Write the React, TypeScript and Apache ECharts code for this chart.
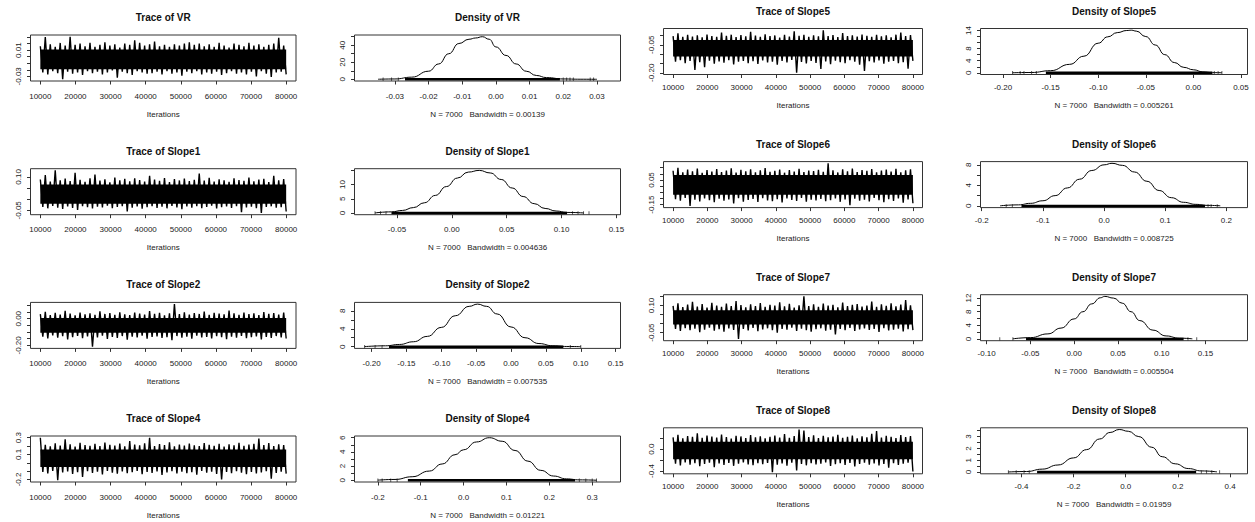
import { useEffect, useRef } from "react";
import * as echarts from "echarts";

// ---------------- shared axis values ----------------
const ITER_FIRST = 10000;
const ITER_LAST = 80000;
const iterTicks = [10000, 20000, 30000, 40000, 50000, 60000, 70000, 80000];
const N_SAMPLES = 7000;

// ---------------- trace envelopes (50 bins: upper and lower excursions) ----------------
const vrHi = [0.016, 0.030, 0.019, 0.015, 0.021, 0.017, 0.0305, 0.018, 0.020, 0.016, 0.021, 0.015, 0.018, 0.022, 0.017, 0.019, 0.014, 0.020, 0.018, 0.025, 0.021, 0.017, 0.019, 0.023, 0.016, 0.018, 0.015, 0.019, 0.017, 0.020, 0.022, 0.018, 0.020, 0.016, 0.019, 0.015, 0.021, 0.017, 0.014, 0.020, 0.018, 0.016, 0.021, 0.017, 0.019, 0.015, 0.018, 0.020, 0.029, 0.017];
const vrLo = [-0.024, -0.027, -0.022, -0.025, -0.0345, -0.023, -0.026, -0.024, -0.028, -0.022, -0.025, -0.023, -0.027, -0.024, -0.021, -0.032, -0.023, -0.025, -0.028, -0.022, -0.024, -0.026, -0.025, -0.023, -0.027, -0.022, -0.026, -0.024, -0.029, -0.023, -0.025, -0.022, -0.027, -0.024, -0.026, -0.023, -0.028, -0.025, -0.022, -0.026, -0.024, -0.027, -0.023, -0.030, -0.022, -0.026, -0.031, -0.024, -0.023, -0.027];
const vrCore = [-0.019, 0.011];

const s1Hi = [0.088, 0.108, 0.079, 0.129, 0.085, 0.092, 0.081, 0.118, 0.087, 0.078, 0.094, 0.110, 0.083, 0.089, 0.076, 0.097, 0.084, 0.091, 0.080, 0.093, 0.086, 0.079, 0.105, 0.088, 0.082, 0.095, 0.077, 0.090, 0.084, 0.092, 0.081, 0.087, 0.115, 0.083, 0.096, 0.079, 0.089, 0.085, 0.078, 0.093, 0.086, 0.082, 0.097, 0.080, 0.088, 0.091, 0.077, 0.105, 0.084, 0.090];
const s1Lo = [-0.035, -0.041, -0.030, -0.038, -0.044, -0.033, -0.039, -0.048, -0.031, -0.036, -0.042, -0.034, -0.037, -0.029, -0.040, -0.035, -0.032, -0.055, -0.038, -0.033, -0.043, -0.036, -0.031, -0.039, -0.034, -0.041, -0.030, -0.037, -0.045, -0.033, -0.038, -0.032, -0.040, -0.035, -0.029, -0.042, -0.036, -0.033, -0.039, -0.031, -0.058, -0.037, -0.034, -0.040, -0.062, -0.035, -0.032, -0.038, -0.036, -0.055];
const s1Core = [-0.020, 0.066];

const s2Hi = [0.035, 0.052, 0.028, 0.044, 0.031, 0.060, 0.038, 0.025, 0.047, 0.033, 0.041, 0.029, 0.055, 0.036, 0.043, 0.030, 0.049, 0.034, 0.027, 0.046, 0.039, 0.032, 0.058, 0.037, 0.045, 0.026, 0.040, 0.110, 0.035, 0.048, 0.031, 0.042, 0.036, 0.053, 0.029, 0.044, 0.038, 0.033, 0.062, 0.040, 0.030, 0.047, 0.035, 0.041, 0.028, 0.050, 0.037, 0.043, 0.032, 0.046];
const s2Lo = [-0.135, -0.148, -0.126, -0.142, -0.131, -0.155, -0.138, -0.129, -0.146, -0.133, -0.210, -0.140, -0.127, -0.151, -0.136, -0.144, -0.130, -0.158, -0.134, -0.141, -0.128, -0.149, -0.137, -0.132, -0.145, -0.139, -0.162, -0.130, -0.143, -0.135, -0.150, -0.128, -0.141, -0.136, -0.147, -0.131, -0.139, -0.153, -0.134, -0.142, -0.129, -0.146, -0.138, -0.133, -0.156, -0.137, -0.144, -0.130, -0.140, -0.148];
const s2Core = [-0.105, 0.006];

const s4Hi = [0.300, 0.215, 0.198, 0.232, 0.207, 0.280, 0.221, 0.194, 0.238, 0.211, 0.203, 0.226, 0.199, 0.241, 0.214, 0.205, 0.229, 0.196, 0.260, 0.218, 0.208, 0.234, 0.300, 0.201, 0.223, 0.212, 0.245, 0.197, 0.219, 0.206, 0.231, 0.210, 0.200, 0.237, 0.215, 0.204, 0.228, 0.195, 0.222, 0.209, 0.240, 0.202, 0.217, 0.226, 0.290, 0.211, 0.235, 0.199, 0.220, 0.213];
const s4Lo = [-0.110, -0.128, -0.098, -0.210, -0.117, -0.104, -0.135, -0.112, -0.170, -0.101, -0.123, -0.108, -0.140, -0.097, -0.119, -0.131, -0.105, -0.126, -0.114, -0.099, -0.137, -0.110, -0.121, -0.103, -0.145, -0.116, -0.100, -0.129, -0.107, -0.124, -0.113, -0.142, -0.098, -0.118, -0.106, -0.133, -0.200, -0.111, -0.125, -0.102, -0.120, -0.138, -0.109, -0.127, -0.115, -0.101, -0.190, -0.122, -0.108, -0.130];
const s4Core = [-0.050, 0.160];

const s5Hi = [-0.004, 0.012, -0.008, 0.003, -0.006, 0.001, -0.010, 0.005, -0.003, -0.007, 0.015, -0.002, 0.004, -0.009, 0.002, -0.005, 0.020, -0.001, -0.008, 0.006, -0.004, 0.000, -0.011, 0.003, -0.006, 0.022, -0.002, 0.004, -0.007, 0.001, -0.005, 0.028, -0.003, 0.002, -0.009, 0.013, -0.004, 0.000, -0.006, 0.005, -0.002, -0.008, 0.003, -0.005, 0.001, -0.010, 0.004, 0.015, -0.003, 0.002];
const s5Lo = [-0.140, -0.132, -0.148, -0.137, -0.185, -0.143, -0.170, -0.135, -0.151, -0.139, -0.146, -0.133, -0.155, -0.141, -0.136, -0.149, -0.138, -0.152, -0.134, -0.145, -0.140, -0.157, -0.137, -0.144, -0.131, -0.200, -0.142, -0.150, -0.136, -0.147, -0.180, -0.139, -0.154, -0.135, -0.143, -0.148, -0.132, -0.141, -0.156, -0.190, -0.138, -0.145, -0.134, -0.151, -0.140, -0.137, -0.149, -0.143, -0.178, -0.136];
const s5Core = [-0.113, -0.024];

const s6Hi = [0.125, 0.148, 0.112, 0.135, 0.120, 0.142, 0.108, 0.130, 0.118, 0.139, 0.115, 0.127, 0.144, 0.110, 0.133, 0.121, 0.137, 0.113, 0.129, 0.146, 0.117, 0.124, 0.135, 0.109, 0.131, 0.119, 0.140, 0.114, 0.126, 0.122, 0.133, 0.116, 0.185, 0.128, 0.111, 0.136, 0.120, 0.143, 0.115, 0.130, 0.124, 0.138, 0.112, 0.127, 0.134, 0.118, 0.141, 0.113, 0.129, 0.137];
const s6Lo = [-0.105, -0.118, -0.096, -0.160, -0.110, -0.123, -0.099, -0.114, -0.130, -0.102, -0.117, -0.108, -0.140, -0.097, -0.125, -0.111, -0.104, -0.128, -0.098, -0.115, -0.121, -0.106, -0.133, -0.100, -0.112, -0.119, -0.095, -0.126, -0.109, -0.116, -0.103, -0.122, -0.113, -0.099, -0.127, -0.107, -0.155, -0.101, -0.118, -0.110, -0.124, -0.096, -0.114, -0.131, -0.105, -0.120, -0.100, -0.135, -0.108, -0.138];
const s6Core = [-0.070, 0.090];

const s7Hi = [0.098, 0.112, 0.091, 0.105, 0.120, 0.094, 0.108, 0.089, 0.115, 0.100, 0.093, 0.110, 0.096, 0.125, 0.102, 0.090, 0.107, 0.097, 0.113, 0.092, 0.104, 0.099, 0.118, 0.095, 0.109, 0.088, 0.101, 0.150, 0.097, 0.106, 0.093, 0.111, 0.099, 0.104, 0.090, 0.116, 0.096, 0.103, 0.108, 0.094, 0.100, 0.122, 0.092, 0.107, 0.098, 0.112, 0.095, 0.105, 0.130, 0.101];
const s7Lo = [-0.030, -0.041, -0.025, -0.036, -0.028, -0.048, -0.033, -0.022, -0.039, -0.031, -0.044, -0.027, -0.035, -0.085, -0.029, -0.038, -0.024, -0.042, -0.032, -0.026, -0.037, -0.050, -0.030, -0.034, -0.023, -0.040, -0.028, -0.036, -0.045, -0.031, -0.026, -0.039, -0.033, -0.060, -0.029, -0.037, -0.024, -0.041, -0.032, -0.027, -0.035, -0.030, -0.046, -0.025, -0.038, -0.033, -0.028, -0.043, -0.031, -0.036];
const s7Core = [-0.005, 0.074];

const s8Hi = [0.215, 0.262, 0.198, 0.240, 0.225, 0.290, 0.207, 0.251, 0.230, 0.212, 0.268, 0.221, 0.195, 0.246, 0.233, 0.204, 0.258, 0.218, 0.237, 0.200, 0.227, 0.249, 0.213, 0.275, 0.206, 0.239, 0.360, 0.340, 0.222, 0.255, 0.201, 0.243, 0.216, 0.231, 0.264, 0.209, 0.226, 0.250, 0.197, 0.235, 0.219, 0.282, 0.330, 0.211, 0.244, 0.228, 0.203, 0.257, 0.223, 0.238];
const s8Lo = [-0.265, -0.298, -0.241, -0.283, -0.256, -0.312, -0.270, -0.247, -0.330, -0.262, -0.289, -0.251, -0.305, -0.268, -0.243, -0.279, -0.292, -0.258, -0.274, -0.250, -0.420, -0.286, -0.263, -0.301, -0.248, -0.390, -0.271, -0.296, -0.255, -0.282, -0.267, -0.244, -0.308, -0.276, -0.259, -0.290, -0.253, -0.315, -0.269, -0.246, -0.284, -0.261, -0.299, -0.272, -0.340, -0.257, -0.287, -0.264, -0.249, -0.410];
const s8Core = [-0.185, 0.135];

// ---------------- density curves ----------------
const vrDensX = [-0.035, -0.030, -0.025, -0.020, -0.017, -0.014, -0.011, -0.008, -0.006, -0.004, -0.002, 0.000, 0.003, 0.006, 0.009, 0.012, 0.015, 0.020, 0.025, 0.030];
const vrDensY = [0.05, 0.4, 2.5, 9.5, 18, 30, 42, 47, 48.5, 50, 47, 38, 28, 18, 9.5, 4.5, 2, 0.4, 0.08, 0.02];
const s1DensX = [-0.07, -0.055, -0.045, -0.035, -0.025, -0.015, -0.005, 0.005, 0.015, 0.025, 0.035, 0.045, 0.055, 0.065, 0.075, 0.085, 0.095, 0.105, 0.12];
const s1DensY = [0.03, 0.4, 0.9, 1.9, 3.6, 6.2, 9.3, 12.3, 14.4, 15.0, 14.1, 11.8, 8.8, 5.8, 3.3, 1.6, 0.7, 0.2, 0.02];
const s2DensX = [-0.21, -0.18, -0.16, -0.14, -0.12, -0.10, -0.08, -0.06, -0.048, -0.035, -0.02, 0.00, 0.02, 0.04, 0.06, 0.08, 0.10];
const s2DensY = [0.02, 0.2, 0.5, 1.1, 2.3, 4.3, 6.9, 9.0, 9.5, 9.0, 7.3, 4.4, 2.0, 0.7, 0.2, 0.05, 0.01];
const s4DensX = [-0.20, -0.16, -0.12, -0.08, -0.05, -0.02, 0.00, 0.03, 0.06, 0.09, 0.12, 0.15, 0.18, 0.21, 0.24, 0.27, 0.31];
const s4DensY = [0.02, 0.12, 0.5, 1.3, 2.3, 3.6, 4.3, 5.4, 6.0, 5.5, 4.2, 2.7, 1.4, 0.6, 0.2, 0.06, 0.01];
const s5DensX = [-0.19, -0.17, -0.15, -0.13, -0.115, -0.10, -0.09, -0.08, -0.07, -0.065, -0.06, -0.05, -0.04, -0.03, -0.02, -0.01, 0.00, 0.01, 0.02, 0.03];
const s5DensY = [0.01, 0.1, 0.7, 2.8, 5.5, 9.8, 11.9, 13.3, 14.0, 14.1, 13.8, 12.0, 9.2, 6.0, 3.4, 1.8, 1.0, 0.3, 0.05, 0.01];
const s6DensX = [-0.17, -0.14, -0.12, -0.10, -0.08, -0.06, -0.04, -0.02, 0.00, 0.013, 0.03, 0.05, 0.07, 0.09, 0.11, 0.13, 0.15, 0.17, 0.19];
const s6DensY = [0.02, 0.2, 0.5, 1.0, 2.0, 3.5, 5.2, 6.9, 8.0, 8.3, 7.9, 6.6, 4.8, 3.0, 1.6, 0.7, 0.3, 0.1, 0.02];
const s7DensX = [-0.07, -0.05, -0.03, -0.015, 0.00, 0.01, 0.02, 0.03, 0.035, 0.045, 0.055, 0.065, 0.075, 0.09, 0.105, 0.12, 0.135];
const s7DensY = [0.05, 0.4, 1.5, 3.2, 5.9, 8.0, 10.3, 12.1, 12.5, 12.0, 10.5, 8.0, 5.4, 2.6, 0.9, 0.25, 0.05];
const s8DensX = [-0.45, -0.38, -0.32, -0.26, -0.20, -0.15, -0.10, -0.06, -0.025, 0.01, 0.05, 0.10, 0.14, 0.19, 0.24, 0.29, 0.35];
const s8DensY = [0.01, 0.05, 0.25, 0.6, 1.2, 1.9, 2.8, 3.35, 3.6, 3.45, 3.0, 2.1, 1.3, 0.7, 0.3, 0.1, 0.02];

// ---------------- rugs (dense span and sparse tail samples) ----------------
const vrRug = [-0.027, 0.019];
const vrRugTails = [-0.0335, -0.031, -0.029, 0.020, 0.021, 0.022, 0.023, 0.028, 0.029];
const s1Rug = [-0.055, 0.105];
const s1RugTails = [-0.07, -0.065, -0.06, 0.11, 0.115, 0.12, 0.125];
const s2Rug = [-0.175, 0.075];
const s2RugTails = [-0.21, -0.195, -0.185, 0.085, 0.10];
const s4Rug = [-0.13, 0.26];
const s4RugTails = [-0.20, -0.19, -0.17, -0.155, 0.27, 0.285, 0.30, 0.31];
const s5Rug = [-0.155, 0.02];
const s5RugTails = [-0.19, -0.182, -0.178, -0.17, -0.165, 0.022, 0.026, 0.03];
const s6Rug = [-0.135, 0.165];
const s6RugTails = [-0.16, -0.15, 0.17, 0.175, 0.185];
const s7Rug = [-0.055, 0.125];
const s7RugTails = [-0.085, -0.07, 0.13, 0.14];
const s8Rug = [-0.34, 0.27];
const s8RugTails = [-0.45, -0.42, -0.39, -0.37, 0.29, 0.31, 0.33, 0.36];

// ---------------- bandwidths ----------------
const bwVR = "0.00139";
const bwS1 = "0.004636";
const bwS2 = "0.007535";
const bwS4 = "0.01221";
const bwS5 = "0.005261";
const bwS6 = "0.008725";
const bwS7 = "0.005504";
const bwS8 = "0.01959";

// ---------------- tick values / labels ----------------
const vrTraceYTicks = [-0.03, -0.02, -0.01, 0, 0.01, 0.02, 0.03];
const vrTraceYLabels = [-0.03, 0.01];
const s1TraceYTicks = [-0.05, 0, 0.05, 0.1];
const s1TraceYLabels = [-0.05, 0.1];
const s2TraceYTicks = [-0.2, -0.15, -0.1, -0.05, 0, 0.05, 0.1];
const s2TraceYLabels = [-0.2, 0];
const s4TraceYTicks = [-0.2, -0.1, 0, 0.1, 0.2, 0.3];
const s4TraceYLabels = [-0.2, 0.1, 0.3];
const s5TraceYTicks = [-0.2, -0.15, -0.1, -0.05, 0];
const s5TraceYLabels = [-0.2, -0.05];
const s6TraceYTicks = [-0.15, -0.1, -0.05, 0, 0.05, 0.1, 0.15];
const s6TraceYLabels = [-0.15, 0.05];
const s7TraceYTicks = [-0.05, 0, 0.05, 0.1, 0.15];
const s7TraceYLabels = [-0.05, 0.1];
const s8TraceYTicks = [-0.4, -0.2, 0, 0.2];
const s8TraceYLabels = [-0.4, 0];

const vrDensXTicks = [-0.03, -0.02, -0.01, 0, 0.01, 0.02, 0.03];
const s1DensXTicks = [-0.05, 0, 0.05, 0.1, 0.15];
const s2DensXTicks = [-0.2, -0.15, -0.1, -0.05, 0, 0.05, 0.1, 0.15];
const s4DensXTicks = [-0.2, -0.1, 0, 0.1, 0.2, 0.3];
const s5DensXTicks = [-0.2, -0.15, -0.1, -0.05, 0, 0.05];
const s6DensXTicks = [-0.2, -0.1, 0, 0.1, 0.2];
const s7DensXTicks = [-0.1, -0.05, 0, 0.05, 0.1, 0.15];
const s8DensXTicks = [-0.4, -0.2, 0, 0.2, 0.4];

const vrDensYTicks = [0, 10, 20, 30, 40, 50];
const vrDensYLabels = [0, 20, 40];
const s1DensYTicks = [0, 5, 10, 15];
const s1DensYLabels = [0, 5, 10];
const s2DensYTicks = [0, 2, 4, 6, 8];
const s2DensYLabels = [0, 4, 8];
const s4DensYTicks = [0, 1, 2, 3, 4, 5, 6];
const s4DensYLabels = [0, 2, 4, 6];
const s5DensYTicks = [0, 2, 4, 6, 8, 10, 12, 14];
const s5DensYLabels = [0, 4, 8, 14];
const s6DensYTicks = [0, 2, 4, 6, 8];
const s6DensYLabels = [0, 4, 8];
const s7DensYTicks = [0, 2, 4, 6, 8, 10, 12];
const s7DensYLabels = [0, 4, 8, 12];
const s8DensYTicks = [0, 0.5, 1, 1.5, 2, 2.5, 3, 3.5];
const s8DensYLabels = [0, 1, 2, 3];

// density x-limits of the plot boxes
const vrDensXlim = [-0.042, 0.037];
const s1DensXlim = [-0.0887, 0.1537];
const s2DensXlim = [-0.2245, 0.157];
const s4DensXlim = [-0.2545, 0.366];
const s5DensXlim = [-0.2237, 0.0569];
const s6DensXlim = [-0.202, 0.2345];
const s7DensXlim = [-0.107, 0.198];
const s8DensXlim = [-0.557, 0.467];

// ---------------- panels (row by row, 4 columns) ----------------
type Panel =
  | { kind: "trace"; name: string; hi: number[]; lo: number[]; core: number[]; yTicks: number[]; yLabels: number[]; yDec: number }
  | { kind: "dens"; name: string; x: number[]; y: number[]; rug: number[]; tails: number[]; xTicks: number[]; xDec: number; xlim: number[]; yTicks: number[]; yLabels: number[]; bw: string };

const panels: Panel[] = [
  { kind: "trace", name: "VR", hi: vrHi, lo: vrLo, core: vrCore, yTicks: vrTraceYTicks, yLabels: vrTraceYLabels, yDec: 2 },
  { kind: "dens", name: "VR", x: vrDensX, y: vrDensY, rug: vrRug, tails: vrRugTails, xTicks: vrDensXTicks, xDec: 2, xlim: vrDensXlim, yTicks: vrDensYTicks, yLabels: vrDensYLabels, bw: bwVR },
  { kind: "trace", name: "Slope5", hi: s5Hi, lo: s5Lo, core: s5Core, yTicks: s5TraceYTicks, yLabels: s5TraceYLabels, yDec: 2 },
  { kind: "dens", name: "Slope5", x: s5DensX, y: s5DensY, rug: s5Rug, tails: s5RugTails, xTicks: s5DensXTicks, xDec: 2, xlim: s5DensXlim, yTicks: s5DensYTicks, yLabels: s5DensYLabels, bw: bwS5 },

  { kind: "trace", name: "Slope1", hi: s1Hi, lo: s1Lo, core: s1Core, yTicks: s1TraceYTicks, yLabels: s1TraceYLabels, yDec: 2 },
  { kind: "dens", name: "Slope1", x: s1DensX, y: s1DensY, rug: s1Rug, tails: s1RugTails, xTicks: s1DensXTicks, xDec: 2, xlim: s1DensXlim, yTicks: s1DensYTicks, yLabels: s1DensYLabels, bw: bwS1 },
  { kind: "trace", name: "Slope6", hi: s6Hi, lo: s6Lo, core: s6Core, yTicks: s6TraceYTicks, yLabels: s6TraceYLabels, yDec: 2 },
  { kind: "dens", name: "Slope6", x: s6DensX, y: s6DensY, rug: s6Rug, tails: s6RugTails, xTicks: s6DensXTicks, xDec: 1, xlim: s6DensXlim, yTicks: s6DensYTicks, yLabels: s6DensYLabels, bw: bwS6 },

  { kind: "trace", name: "Slope2", hi: s2Hi, lo: s2Lo, core: s2Core, yTicks: s2TraceYTicks, yLabels: s2TraceYLabels, yDec: 2 },
  { kind: "dens", name: "Slope2", x: s2DensX, y: s2DensY, rug: s2Rug, tails: s2RugTails, xTicks: s2DensXTicks, xDec: 2, xlim: s2DensXlim, yTicks: s2DensYTicks, yLabels: s2DensYLabels, bw: bwS2 },
  { kind: "trace", name: "Slope7", hi: s7Hi, lo: s7Lo, core: s7Core, yTicks: s7TraceYTicks, yLabels: s7TraceYLabels, yDec: 2 },
  { kind: "dens", name: "Slope7", x: s7DensX, y: s7DensY, rug: s7Rug, tails: s7RugTails, xTicks: s7DensXTicks, xDec: 2, xlim: s7DensXlim, yTicks: s7DensYTicks, yLabels: s7DensYLabels, bw: bwS7 },

  { kind: "trace", name: "Slope4", hi: s4Hi, lo: s4Lo, core: s4Core, yTicks: s4TraceYTicks, yLabels: s4TraceYLabels, yDec: 1 },
  { kind: "dens", name: "Slope4", x: s4DensX, y: s4DensY, rug: s4Rug, tails: s4RugTails, xTicks: s4DensXTicks, xDec: 1, xlim: s4DensXlim, yTicks: s4DensYTicks, yLabels: s4DensYLabels, bw: bwS4 },
  { kind: "trace", name: "Slope8", hi: s8Hi, lo: s8Lo, core: s8Core, yTicks: s8TraceYTicks, yLabels: s8TraceYLabels, yDec: 1 },
  { kind: "dens", name: "Slope8", x: s8DensX, y: s8DensY, rug: s8Rug, tails: s8RugTails, xTicks: s8DensXTicks, xDec: 1, xlim: s8DensXlim, yTicks: s8DensYTicks, yLabels: s8DensYLabels, bw: bwS8 },
];

// ---------------- layout ----------------
const COL_LEFT = [30.5, 354.5, 663.5, 980.5];
const COL_W = [265.5, 266, 259, 267];
const ROW_TOP_L = [35, 168.7, 302.4, 436];
const ROW_TOP_R = [28.5, 161.6, 294.7, 427.8];
const BOX_H = 46;
const FONT = "'Liberation Sans', Arial, sans-serif";
const INK = "#111";
const TEXT = "#222";
const BOX = "#333";

function axisParts(ticks: number[], labels: number[], fmt: (v: number) => string, margin: number, rotate: number) {
  return {
    axisLine: { show: false, onZero: false },
    axisTick: { show: true, inside: false, length: 3.5, lineStyle: { color: BOX, width: 1 }, customValues: ticks },
    axisLabel: { show: true, customValues: labels, formatter: fmt, fontSize: 8, color: TEXT, margin, rotate, fontFamily: FONT, hideOverlap: false, showMinLabel: true, showMaxLabel: true },
    splitLine: { show: false },
    minorTick: { show: false },
  };
}

function buildOption() {
  const grid: any[] = [];
  const xAxis: any[] = [];
  const yAxis: any[] = [];
  const series: any[] = [];
  const graphic: any[] = [];

  panels.forEach((p, i) => {
    const row = Math.floor(i / 4);
    const col = i % 4;
    const left = COL_LEFT[col];
    const width = COL_W[col];
    const top = col < 2 ? ROW_TOP_L[row] : ROW_TOP_R[row];
    const rightHalf = col >= 2;
    const labelMargin = rightHalf ? 9 : 11;
    const nameGap = rightHalf ? 27 : 29;

    grid.push({ left, top, width, height: BOX_H, show: true, borderColor: BOX, borderWidth: 1, backgroundColor: "transparent" });

    graphic.push({
      type: "text",
      x: left + width / 2,
      y: top - 17.5,
      silent: true,
      style: {
        text: (p.kind === "trace" ? "Trace of " : "Density of ") + p.name,
        fontSize: 10,
        fontWeight: "bold",
        fontFamily: FONT,
        fill: INK,
        align: "center",
        verticalAlign: "middle",
        textAlign: "center",
        textVerticalAlign: "middle",
      },
    });

    const nameStyle = { fontSize: 8, color: TEXT, fontFamily: FONT };

    if (p.kind === "trace") {
      const ymin = Math.min(...p.lo);
      const ymax = Math.max(...p.hi);
      const pad = 0.04 * (ymax - ymin);
      const xpad = 0.04 * (ITER_LAST - ITER_FIRST);
      xAxis.push({
        gridIndex: i, type: "value", min: ITER_FIRST - xpad, max: ITER_LAST + xpad,
        name: "Iterations", nameLocation: "middle", nameGap, nameTextStyle: nameStyle,
        ...axisParts(iterTicks, iterTicks, (v) => String(Math.round(v)), labelMargin, 0),
      });
      yAxis.push({
        gridIndex: i, type: "value", min: ymin - pad, max: ymax + pad,
        ...axisParts(p.yTicks, p.yLabels, (v) => v.toFixed(p.yDec), 8, 90),
      });
      const n = p.hi.length;
      const span = ITER_LAST - ITER_FIRST;
      const data: number[][] = [];
      for (let k = 0; k < n; k++) {
        data.push([ITER_FIRST + (2 * k * span) / (2 * n - 1), p.hi[k]]);
        data.push([ITER_FIRST + ((2 * k + 1) * span) / (2 * n - 1), p.lo[k]]);
      }
      series.push({
        type: "line", xAxisIndex: i, yAxisIndex: i, data, symbol: "none", silent: true,
        lineStyle: { color: "#000", width: 1.4 },
        markArea: {
          silent: true,
          itemStyle: { color: "#000", opacity: 1 },
          label: { show: false },
          data: [[{ xAxis: ITER_FIRST, yAxis: p.core[0] }, { xAxis: ITER_LAST, yAxis: p.core[1] }]],
        },
      });
    } else {
      const peak = Math.max(...p.y);
      xAxis.push({
        gridIndex: i, type: "value", min: p.xlim[0], max: p.xlim[1],
        name: `N = ${N_SAMPLES}   Bandwidth = ${p.bw}`, nameLocation: "middle", nameGap, nameTextStyle: nameStyle,
        ...axisParts(p.xTicks, p.xTicks, (v) => v.toFixed(p.xDec), labelMargin, 0),
      });
      yAxis.push({
        gridIndex: i, type: "value", min: -0.04 * peak, max: 1.04 * peak,
        ...axisParts(p.yTicks, p.yLabels, (v) => String(v), 8, 90),
      });
      series.push({
        type: "line", xAxisIndex: i, yAxisIndex: i, silent: true,
        data: p.x.map((x, k) => [x, p.y[k]]),
        smooth: 0.5, smoothMonotone: "x", symbol: "none",
        lineStyle: { color: "#000", width: 1 },
      });
      series.push({
        type: "line", xAxisIndex: i, yAxisIndex: i, silent: true,
        data: [[p.rug[0], 0], [p.rug[1], 0]], symbol: "none",
        lineStyle: { color: "#000", width: 2.5 },
      });
      series.push({
        type: "scatter", xAxisIndex: i, yAxisIndex: i, silent: true,
        data: p.tails.map((v) => [v, 0]), symbol: "rect", symbolSize: [1, 3.5],
        itemStyle: { color: "#333" },
      });
    }
  });

  return { animation: false, backgroundColor: "#fff", grid, xAxis, yAxis, series, graphic };
}

export default function App() {
  const ref = useRef<HTMLDivElement>(null);
  useEffect(() => {
    document.body.style.margin = "0";
    const chart = echarts.init(ref.current as HTMLDivElement, null, { renderer: "svg" });
    chart.setOption(buildOption() as any);
    return () => chart.dispose();
  }, []);
  return <div ref={ref} style={{ width: 1255, height: 522, background: "#fff" }} />;
}
